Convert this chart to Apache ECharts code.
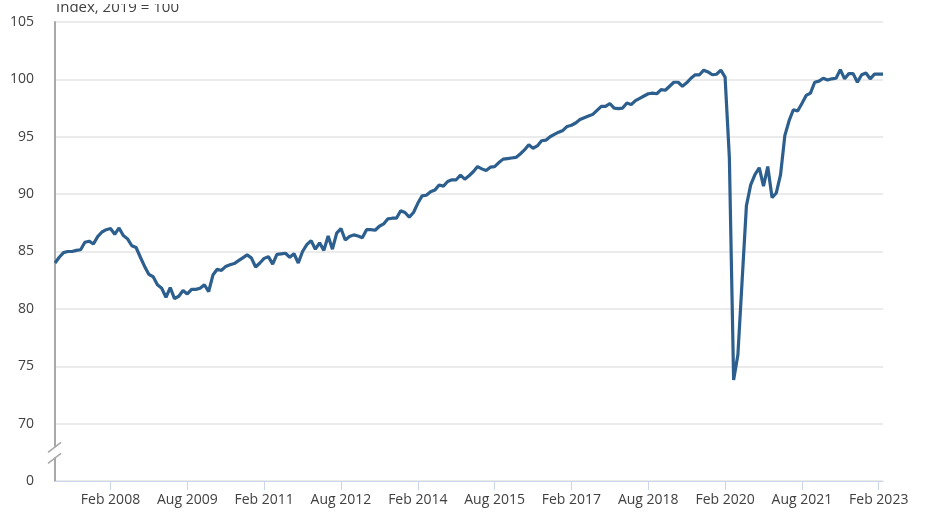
<!DOCTYPE html>
<html>
<head>
<meta charset="utf-8">
<title>Index, 2019 = 100</title>
<script src="https://cdn.jsdelivr.net/npm/echarts@6/dist/echarts.min.js"></script>
<style>
    html, body { margin: 0; padding: 0; background: #ffffff; }
    #chart { width: 934px; height: 518px; }
</style>
</head>
<body>
<div id="chart"></div>
<script>
// 月份名称 (x轴类目从 2007年1月 到 2023年3月)
const monthNames = ['Jan', 'Feb', 'Mar', 'Apr', 'May', 'Jun', 'Jul', 'Aug', 'Sep', 'Oct', 'Nov', 'Dec'];
const startYear = 2007;

// 月度指数, 2019 = 100
const indexValues = [
    84.0, 84.5, 84.9, 85.0, 85.0, 85.1, 85.15, 85.8, 85.9, 85.65, 86.3, 86.7,
    86.9, 87.0, 86.5, 87.05, 86.4, 86.1, 85.5, 85.35, 84.5, 83.7, 83.0, 82.8,
    82.1, 81.8, 81.0, 81.85, 80.9, 81.1, 81.6, 81.3, 81.7, 81.7, 81.8, 82.1,
    81.5, 82.95, 83.45, 83.35, 83.7, 83.85, 83.95, 84.2, 84.45, 84.7, 84.45, 83.65,
    84.0, 84.4, 84.55, 83.9, 84.75, 84.8, 84.85, 84.5, 84.8, 84.0, 85.0, 85.6,
    85.95, 85.2, 85.75, 85.1, 86.35, 85.2, 86.6, 87.0, 86.0, 86.3, 86.45, 86.35,
    86.2, 86.9, 86.9, 86.85, 87.2, 87.4, 87.85, 87.9, 87.9, 88.55, 88.4, 88.0,
    88.4, 89.2, 89.85, 89.9, 90.2, 90.35, 90.8, 90.7, 91.1, 91.25, 91.25, 91.65,
    91.3, 91.6, 91.95, 92.4, 92.2, 92.05, 92.35, 92.4, 92.75, 93.05, 93.1, 93.15,
    93.2, 93.5, 93.85, 94.3, 94.0, 94.2, 94.65, 94.7, 95.0, 95.2, 95.4, 95.55,
    95.9, 96.0, 96.2, 96.5, 96.65, 96.8, 96.95, 97.3, 97.65, 97.65, 97.9, 97.5,
    97.45, 97.5, 97.95, 97.8, 98.15, 98.35, 98.55, 98.75, 98.8, 98.75, 99.1, 99.05,
    99.4, 99.75, 99.75, 99.4, 99.7, 100.1, 100.4, 100.4, 100.8, 100.65, 100.4, 100.45,
    100.8, 100.2, 93.2, 73.8, 76.0, 82.5, 89.0, 90.8, 91.7, 92.3, 90.7, 92.4,
    89.7, 90.1, 91.7, 95.1, 96.4, 97.35, 97.25, 97.9, 98.6, 98.8, 99.75, 99.85,
    100.1, 99.95, 100.05, 100.1, 100.85, 100.05, 100.5, 100.5, 99.75, 100.4, 100.55, 100.05,
    100.45, 100.45, 100.45
];

// y轴刻度 (65 的位置显示为 0, 中间是断轴)
const yMin = 65;
const yMax = 105;
const yStep = 5;
const yBreakValue = 67.5;

// x轴标签: 从 2008年2月 开始每 18 个月一个
const firstLabelIndex = 13;
const labelEvery = 18;

const categories = indexValues.map((v, i) => monthNames[i % 12] + ' ' + (startYear + Math.floor(i / 12)));

document.addEventListener('DOMContentLoaded', function() {
    const chartDom = document.getElementById('chart');
    const myChart = echarts.init(chartDom);

    const textColor = '#414042';
    const font = '"Open Sans", "Noto Sans", sans-serif';

    function showLabel(idx) {
        return idx >= firstLabelIndex && (idx - firstLabelIndex) % labelEvery === 0;
    }

    const option = {
        animation: false,
        backgroundColor: '#ffffff',
        textStyle: { fontFamily: font },
        title: {
            text: 'Index, 2019 = 100',
            left: 56,
            top: 0,
            padding: 0,
            textStyle: {
                fontSize: 15,
                fontWeight: 'normal',
                color: textColor,
                fontFamily: font
            }
        },
        grid: {
            left: 55,
            right: 51,
            top: 22,
            bottom: 37
        },
        xAxis: {
            type: 'category',
            data: categories,
            boundaryGap: false,
            axisLine: { lineStyle: { color: '#ccd6eb', width: 1 } },
            axisTick: {
                show: true,
                length: 9,
                interval: showLabel,
                lineStyle: { color: '#ccd6eb' }
            },
            axisLabel: {
                interval: showLabel,
                color: textColor,
                fontSize: 14,
                margin: 12,
                fontFamily: font
            },
            splitLine: { show: false }
        },
        yAxis: {
            type: 'value',
            min: yMin,
            max: yMax,
            interval: yStep,
            axisLine: { show: true, lineStyle: { color: '#a8a8a8', width: 2 } },
            axisTick: { show: false },
            axisLabel: {
                color: textColor,
                fontSize: 14,
                margin: 21,
                fontFamily: font,
                formatter: function(v) { return v === yMin ? '0' : String(v); }
            },
            splitLine: { lineStyle: { color: '#e4e4e4', width: 1.5 } }
        },
        series: [{
            type: 'line',
            data: indexValues,
            showSymbol: false,
            lineStyle: { color: '#2d5f8e', width: 3.2 },
            itemStyle: { color: '#2d5f8e' }
        }]
    };
    myChart.setOption(option);

    // 断轴标记 + 顶部遮挡 (标题上沿被裁掉)
    const axisX = myChart.convertToPixel({ xAxisIndex: 0 }, 0);
    const breakY = myChart.convertToPixel({ yAxisIndex: 0 }, yBreakValue);
    myChart.setOption({
        graphic: [
            {
                type: 'rect',
                shape: { x: 0, y: 0, width: 934, height: 4 },
                style: { fill: '#ffffff' },
                z: 100
            },
            {
                type: 'rect',
                shape: { x: axisX - 3, y: breakY - 5, width: 6, height: 10 },
                style: { fill: '#ffffff' },
                z: 100
            },
            {
                type: 'line',
                shape: { x1: axisX - 7, y1: breakY, x2: axisX + 6, y2: breakY - 10 },
                style: { stroke: '#a8a8a8', lineWidth: 1.5 },
                z: 101
            },
            {
                type: 'line',
                shape: { x1: axisX - 7, y1: breakY + 11, x2: axisX + 6, y2: breakY + 1 },
                style: { stroke: '#a8a8a8', lineWidth: 1.5 },
                z: 101
            }
        ]
    });
});
</script>
</body>
</html>
